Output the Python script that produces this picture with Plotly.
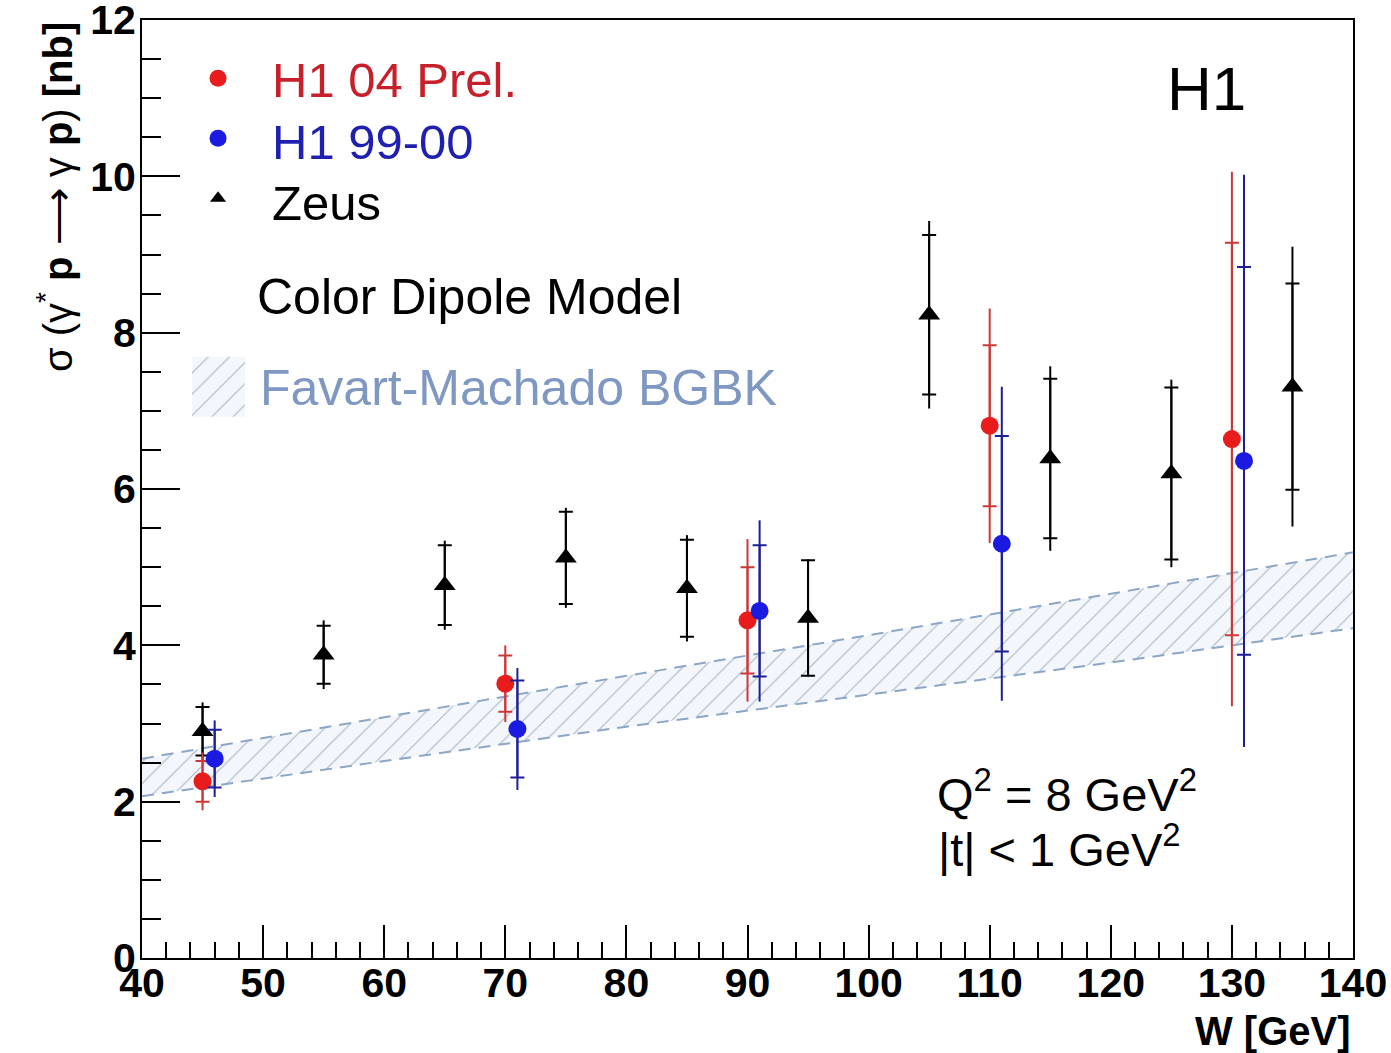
import plotly.graph_objects as go

# ---------------- data ----------------
h1_04_w = [45, 70, 90, 110, 130]
h1_04_val = [2.26, 3.51, 4.32, 6.81, 6.64]
h1_04_stat = [0.26, 0.36, 0.68, 1.03, 2.51]
h1_04_tot = [0.37, 0.49, 1.04, 1.50, 3.42]

h1_99_w = [46, 71, 91, 111, 131]
h1_99_val = [2.55, 2.93, 4.44, 5.30, 6.36]
h1_99_stat = [0.37, 0.62, 0.84, 1.38, 2.48]
h1_99_tot = [0.49, 0.78, 1.16, 2.01, 3.66]

zeus_w = [45, 55, 65, 75, 85, 95, 105, 115, 125, 135]
zeus_val = [2.90, 3.88, 4.77, 5.12, 4.73, 4.35, 8.23, 6.39, 6.20, 7.31]
zeus_stat = [0.31, 0.37, 0.51, 0.59, 0.62, 0.74, 1.02, 1.02, 1.10, 1.32]
zeus_tot = [0.37, 0.44, 0.57, 0.64, 0.68, 0.75, 1.20, 1.18, 1.20, 1.79]

band_w = [40, 60, 80, 100, 120, 140]
band_upper = [2.55, 3.08, 3.61, 4.13, 4.66, 5.19]
band_lower = [2.07, 2.52, 2.96, 3.37, 3.78, 4.22]

x_ticks = [40, 50, 60, 70, 80, 90, 100, 110, 120, 130, 140]
y_ticks = [0, 2, 4, 6, 8, 10, 12]

# ---------------- styles ----------------
RED_M = "#e81c1c"
RED_L = "#cc3838"
BLUE_M = "#1a1ae0"
BLUE_L = "#1e1e96"
BLACK = "#000000"
BAND_EDGE = "#8ea6c6"
BAND_TEXT = "#7f98c2"
FONT = "Liberation Sans, Arial, Helvetica, sans-serif"

fig = go.Figure()

# model band (hatched)
fig.add_trace(go.Scatter(x=band_w, y=band_lower, mode="lines",
                         line=dict(color=BAND_EDGE, width=2, dash="12px,8px"),
                         showlegend=False, hoverinfo="skip"))
fig.add_trace(go.Scatter(x=band_w, y=band_upper, mode="lines",
                         line=dict(color=BAND_EDGE, width=2, dash="12px,8px"),
                         fill="tonexty", fillcolor="rgba(235,242,250,0.6)",
                         fillpattern=dict(shape="/", size=15, solidity=0.07,
                                          fgcolor="#5c6e8a", bgcolor="rgba(238,244,250,0.7)"),
                         showlegend=False, hoverinfo="skip"))


def add_series(w, val, stat, tot, mcolor, lcolor, symbol, msize):
    # total error: plain line
    fig.add_trace(go.Scatter(
        x=w, y=val, mode="markers",
        marker=dict(size=msize, color=mcolor, opacity=0),
        error_y=dict(type="data", array=tot, visible=True, color=lcolor,
                     thickness=2, width=0),
        showlegend=False, hoverinfo="skip"))
    # stat error: tick marks + marker
    fig.add_trace(go.Scatter(
        x=w, y=val, mode="markers",
        marker=dict(size=msize, color=mcolor, symbol=symbol,
                    line=dict(width=0)),
        error_y=dict(type="data", array=stat, visible=True, color=lcolor,
                     thickness=2, width=7),
        showlegend=False))


add_series(zeus_w, zeus_val, zeus_stat, zeus_tot, BLACK, BLACK, "triangle-up", 19)
add_series(h1_04_w, h1_04_val, h1_04_stat, h1_04_tot, RED_M, RED_L, "circle", 18)
add_series(h1_99_w, h1_99_val, h1_99_stat, h1_99_tot, BLUE_M, BLUE_L, "circle", 18)

# ---------- legend samples on an overlay axis (0..1 over plot area) ----------
fig.add_trace(go.Scatter(x=[0.0628], y=[0.938], mode="markers", xaxis="x2", yaxis="y2",
                         marker=dict(size=17, color=RED_M), showlegend=False, hoverinfo="skip"))
fig.add_trace(go.Scatter(x=[0.0628], y=[0.874], mode="markers", xaxis="x2", yaxis="y2",
                         marker=dict(size=17, color=BLUE_M), showlegend=False, hoverinfo="skip"))
fig.add_trace(go.Scatter(x=[0.0628], y=[0.810], mode="markers", xaxis="x2", yaxis="y2",
                         marker=dict(size=14, color=BLACK, symbol="triangle-up"),
                         showlegend=False, hoverinfo="skip"))
fig.add_trace(go.Scatter(x=[0.0413, 0.085, 0.085, 0.0413, 0.0413],
                         y=[0.577, 0.577, 0.641, 0.641, 0.577],
                         mode="lines", xaxis="x2", yaxis="y2",
                         line=dict(width=0, color="rgba(0,0,0,0)"),
                         fill="toself", fillcolor="rgba(238,244,250,0.7)",
                         fillpattern=dict(shape="/", size=15, solidity=0.07,
                                          fgcolor="#5c6e8a", bgcolor="rgba(238,244,250,0.7)"),
                         showlegend=False, hoverinfo="skip"))

ann = []


def txt(text, x, y, size, color="black", xanchor="left", yanchor="middle", **kw):
    ann.append(dict(text=text, x=x, y=y, xref="paper", yref="paper",
                    xanchor=xanchor, yanchor=yanchor, showarrow=False,
                    font=dict(family=FONT, size=size, color=color), **kw))


txt("H1 04 Prel.", 0.1057, 0.936, 49, "#c8202a")
txt("H1 99-00", 0.1057, 0.870, 49, "#1f1fb0")
txt("Zeus", 0.1057, 0.805, 49, "black")
txt("Color Dipole Model", 0.0933, 0.705, 50, "black")
txt("Favart-Machado BGBK", 0.0958, 0.608, 50, BAND_TEXT)
txt("H1", 0.845, 0.927, 62, "black")
txt("Q<sup>2</sup> = 8 GeV<sup>2</sup>", 0.655, 0.178, 47, "black")
txt("|t| &lt; 1 GeV<sup>2</sup>", 0.656, 0.119, 47, "black")
# axis titles
txt("<b>W [GeV]</b>", 1.0, -0.078, 40, "black", xanchor="right")
txt("σ (γ<sup>*</sup> <b>p</b> ⟶ γ <b>p</b>) <b>[nb]</b>", -0.0718, 1.0, 40, "black",
    xanchor="center", yanchor="top", textangle=-90)

axis_common = dict(showline=True, linewidth=2, linecolor="black", mirror=True,
                   showgrid=False, zeroline=False, ticks="inside", tickwidth=2,
                   tickcolor="black", automargin=False, ticklabeloverflow="allow",
                   tickfont=dict(family=FONT, size=41, color="black", weight="bold"))

fig.update_layout(
    width=1391, height=1053,
    margin=dict(l=142, r=38, t=20, b=95),
    paper_bgcolor="white", plot_bgcolor="white",
    showlegend=False,
    xaxis=dict(range=[40, 140], tickvals=x_ticks, ticktext=[str(v) for v in x_ticks],
               ticklen=33, ticklabelstandoff=-12,
               minor=dict(dtick=2, ticks="inside", ticklen=16,
                          tickwidth=2, tickcolor="black"),
               **axis_common),
    yaxis=dict(range=[0, 12.001], tickvals=y_ticks, ticktext=[str(v) for v in y_ticks],
               ticklen=38, ticklabelstandoff=-4,
               minor=dict(dtick=0.5, ticks="inside", ticklen=19,
                          tickwidth=2, tickcolor="black"),
               **axis_common),
    xaxis2=dict(range=[0, 1], overlaying="x", visible=False, fixedrange=True),
    yaxis2=dict(range=[0, 1], overlaying="y", visible=False, fixedrange=True),
    annotations=ann,
)

fig.write_html("out.html")
